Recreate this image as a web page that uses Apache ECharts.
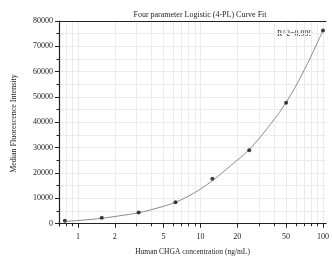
<!DOCTYPE html>
<html><head><meta charset="utf-8">
<script src="https://cdn.jsdelivr.net/npm/echarts@6/dist/echarts.min.js"></script>
<style>html,body{margin:0;padding:0;background:#fff}#c{width:332px;height:264px}</style>
</head><body><div id="c"></div>
<script>
var concentrations = [0.78125, 1.5625, 3.125, 6.25, 12.5, 25, 50, 100];
var mfiValues = [1200, 2400, 4400, 8500, 17700, 29000, 47700, 76300];
var curveConc = [0.78125, 1.1, 1.5625, 2.2, 3.125, 4.4, 6.25, 8.8, 12.5, 17.7, 25, 35.4, 50, 70.7, 100];
var curveMfi = [900, 1420, 2150, 3150, 4350, 6140, 8500, 12040, 17000, 23000, 29300, 37900, 47900, 60900, 76300];
var xMajorTicks = [1, 2, 5, 10, 20, 50, 100];
var xAllTicks = [0.8, 0.9, 1, 2, 3, 4, 5, 6, 7, 8, 9, 10, 20, 30, 40, 50, 60, 70, 80, 90, 100];
var yMajorTicks = [0, 10000, 20000, 30000, 40000, 50000, 60000, 70000, 80000];
var yAllTicks = [0, 5000, 10000, 15000, 20000, 25000, 30000, 35000, 40000, 45000, 50000, 55000, 60000, 65000, 70000, 75000, 80000];

var FONT = 'Liberation Serif';
var chart = echarts.init(document.getElementById('c'), null, {renderer: 'canvas'});
var xMin = 0.7, xMax = 106, yMin = -900, yMax = 80000;
function pairs(xs, ys) { return xs.map(function (x, i) { return [x, ys[i]]; }); }

chart.setOption({
  animation: false,
  title: {
    text: 'Four parameter Logistic (4-PL) Curve Fit',
    left: 195, top: 6, textAlign: 'center',
    textStyle: {fontFamily: FONT, fontSize: 8, fontWeight: 'normal', color: '#222'}
  },
  grid: {left: 59, right: 1, top: 21, bottom: 38},
  xAxis: [{
    type: 'log', min: xMin, max: xMax, logBase: 10,
    name: 'Human CHGA concentration (ng/mL)', nameLocation: 'middle', nameGap: 22,
    nameTextStyle: {fontFamily: FONT, fontSize: 7.5, color: '#222'},
    axisLine: {show: true, lineStyle: {color: '#222', width: 1.2}},
    axisTick: {show: true, inside: false, length: 4, customValues: xMajorTicks, lineStyle: {color: '#222'}},
    axisLabel: {customValues: xMajorTicks, fontFamily: FONT, fontSize: 8, color: '#222', margin: 7,
      formatter: function (v) { return String(Math.round(v)); }},
    splitLine: {show: false}, minorTick: {show: false}
  }, {
    type: 'log', min: xMin, max: xMax, logBase: 10, position: 'bottom',
    axisLine: {show: false},
    axisTick: {show: true, inside: false, length: 2.5, customValues: xAllTicks, lineStyle: {color: '#222'}},
    axisLabel: {show: false},
    splitLine: {show: true, lineStyle: {color: '#ebebeb', width: 1}}
  }, {
    type: 'log', min: xMin, max: xMax, logBase: 10, position: 'top',
    axisLine: {show: true, lineStyle: {color: '#222', width: 1}},
    axisTick: {show: false}, axisLabel: {show: false}, splitLine: {show: false}
  }],
  yAxis: [{
    type: 'value', min: yMin, max: yMax,
    name: 'Median Fluorescence Intensity', nameLocation: 'middle', nameGap: 41,
    nameTextStyle: {fontFamily: FONT, fontSize: 8, color: '#222'},
    axisLine: {show: true, lineStyle: {color: '#222', width: 1.2}},
    axisTick: {show: true, inside: false, length: 4, customValues: yMajorTicks, lineStyle: {color: '#222'}},
    axisLabel: {customValues: yMajorTicks, fontFamily: FONT, fontSize: 8, color: '#222', margin: 6,
      formatter: function (v) { return String(v); }},
    splitLine: {show: false}
  }, {
    type: 'value', min: yMin, max: yMax, position: 'left',
    axisLine: {show: false},
    axisTick: {show: true, inside: false, length: 2.5, customValues: yAllTicks, lineStyle: {color: '#222'}},
    axisLabel: {show: false},
    splitLine: {show: true, lineStyle: {color: '#ebebeb', width: 1}}
  }],
  graphic: [{
    type: 'text', left: 277, top: 30,
    style: {text: 'R^2=0.999', font: '8px "Liberation Serif"', fill: '#222'}
  }],
  series: [{
    type: 'line', name: 'fit', xAxisIndex: 0, yAxisIndex: 0,
    data: pairs(curveConc, curveMfi), smooth: 0.4, symbol: 'none',
    lineStyle: {color: '#8a8a8a', width: 1}, z: 2
  }, {
    type: 'scatter', name: 'standards', xAxisIndex: 0, yAxisIndex: 0,
    data: pairs(concentrations, mfiValues), symbol: 'circle', symbolSize: 4,
    itemStyle: {color: '#111'}, z: 3
  }]
});
</script></body></html>
